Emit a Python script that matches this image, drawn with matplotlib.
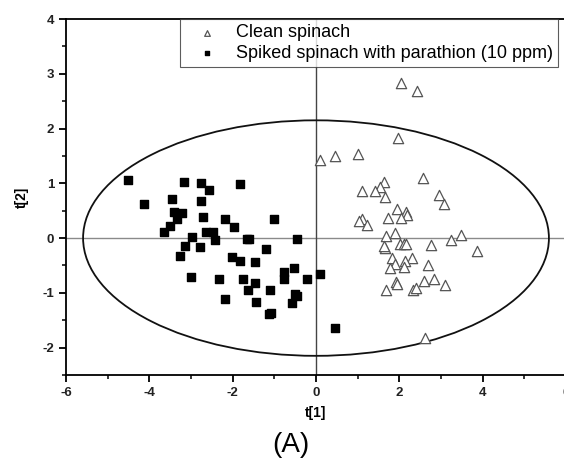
import matplotlib
matplotlib.use("Agg")
import matplotlib.pyplot as plt
from matplotlib.patches import Ellipse
from matplotlib.ticker import MultipleLocator

plt.rcParams['font.family'] = ['Liberation Sans', 'DejaVu Sans']
plt.rcParams['axes.unicode_minus'] = False

# Clean spinach (open triangles)
clean_x = [2.03, 2.43, 1.96, 0.10, 0.46, 1.00, 2.57, 1.63, 1.53, 1.10, 1.42, 1.66,
           2.96, 3.06, 1.95, 2.16, 2.19, 1.72, 2.05, 1.11, 1.04, 1.22, 1.67, 1.90,
           3.49, 3.25, 2.01, 2.11, 2.17, 1.65, 1.64, 2.77, 3.86, 1.82, 2.31, 2.14,
           1.89, 1.77, 2.10, 2.69, 1.91, 1.94, 2.60, 2.84, 3.10, 1.68, 2.33, 2.40,
           2.61]
clean_y = [2.83, 2.68, 1.82, 1.43, 1.49, 1.54, 1.10, 1.03, 0.94, 0.86, 0.86, 0.75,
           0.79, 0.63, 0.54, 0.48, 0.43, 0.37, 0.37, 0.35, 0.31, 0.23, 0.04, 0.09,
           0.05, -0.04, -0.11, -0.10, -0.10, -0.18, -0.15, -0.13, -0.24, -0.37, -0.36, -0.42,
           -0.47, -0.54, -0.53, -0.49, -0.80, -0.83, -0.78, -0.74, -0.85, -0.95, -0.94, -0.91,
           -1.83]

# Spiked spinach with parathion (filled squares)
spiked_x = [-4.52, -4.12, -3.17, -2.77, -2.56, -1.82, -3.45, -2.77, -3.42, -3.21,
            -3.34, -2.72, -2.19, -1.02, -3.51, -3.64, -1.96, -2.64, -2.48, -2.97,
            -2.42, -1.65, -1.60, -0.46, -3.14, -2.78, -1.21, -3.27, -2.01, -1.82,
            -1.46, -0.52, -0.77, -0.78, -3.01, -2.33, -1.75, -1.46, -0.21, 0.09,
            -1.63, -1.11, -0.50, -0.45, -2.18, -1.45, -0.57, -1.14, -1.07, 0.46]
spiked_y = [1.06, 0.63, 1.03, 1.01, 0.87, 0.98, 0.72, 0.68, 0.48, 0.46,
            0.35, 0.39, 0.34, 0.34, 0.22, 0.12, 0.20, 0.11, 0.11, 0.02,
            -0.04, -0.02, -0.01, -0.01, -0.15, -0.17, -0.20, -0.32, -0.34, -0.42,
            -0.43, -0.54, -0.62, -0.74, -0.71, -0.75, -0.75, -0.82, -0.74, -0.65,
            -0.95, -0.95, -1.02, -1.06, -1.12, -1.17, -1.18, -1.38, -1.37, -1.65]

labels = ["Clean spinach", "Spiked spinach with parathion (10 ppm)"]
xticks = [-6, -4, -2, 0, 2, 4, 6]
yticks = [-2, -1, 0, 1, 2, 3, 4]

W, H = 564, 466
fig = plt.figure(figsize=(W / 100, H / 100), dpi=100)
ax = fig.add_axes([66 / W, (H - 375) / H, 500 / W, 356 / H])
ax.set_xlim(-6, 6)
ax.set_ylim(-2.5, 4)

ax.axhline(0, color='#8a8a8a', lw=1.0, zorder=1)
ax.axvline(0, color='#444444', lw=1.0, zorder=1)
ax.add_patch(Ellipse((0, 0), 11.18, 4.3, fill=False, edgecolor='#111111', lw=1.3, zorder=2))

ax.scatter(clean_x, clean_y, marker='^', s=55, facecolors='white', edgecolors='#555555',
           linewidths=0.9, zorder=3, label=labels[0])
ax.scatter(spiked_x, spiked_y, marker='s', s=28, color='black', zorder=3, label=labels[1])

ax.set_xticks(xticks)
ax.set_yticks(yticks)
ax.xaxis.set_minor_locator(MultipleLocator(1))
ax.yaxis.set_minor_locator(MultipleLocator(0.5))
ax.tick_params(which='major', direction='out', length=5, width=1.3, labelsize=9.5)
ax.tick_params(which='minor', direction='out', length=3, width=1.1)
for lab in ax.get_xticklabels() + ax.get_yticklabels():
    lab.set_fontweight('bold')
    lab.set_color('#222222')
for sp in ax.spines.values():
    sp.set_linewidth(1.3)

ax.set_xlabel("t[1]", fontsize=10, fontweight='bold', labelpad=5)
ax.set_ylabel("t[2]", fontsize=10, fontweight='bold', labelpad=10)

leg = ax.legend(loc='upper left', bbox_to_anchor=(0.228, 1.0), borderaxespad=0,
                frameon=True, fancybox=False, edgecolor='#333333', fontsize=13,
                markerscale=0.55, handletextpad=0.4, borderpad=0.3, labelspacing=0.2,
                handlelength=2.4)
leg.get_frame().set_linewidth(0.8)

fig.text(0.515, 0.045, "(A)", fontsize=20, ha='center', va='center')

fig.savefig("out.png", dpi=100)
